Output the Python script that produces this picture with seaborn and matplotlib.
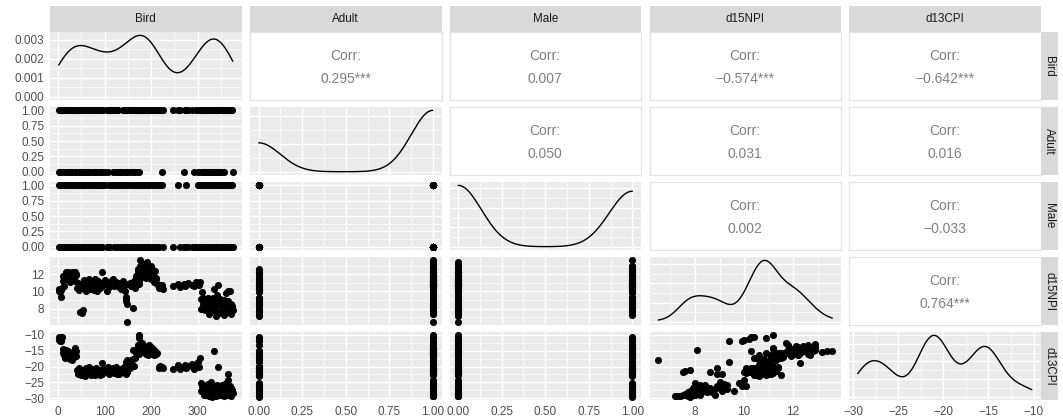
import numpy as np
import pandas as pd
import matplotlib
matplotlib.use("Agg")
import matplotlib.pyplot as plt
import seaborn as sns
from matplotlib.ticker import FixedLocator, MaxNLocator

# ---------------- data ----------------
variables = ["Bird", "Adult", "Male", "d15NPI", "d13CPI"]

bird = [
    1, 2, 167, 4, 5, 6, 171, 8, 10, 11,
    12, 177, 14, 15, 16, 183, 18, 20, 21, 22,
    24, 192, 26, 28, 29, 30, 32, 204, 34, 36,
    37, 38, 39, 41, 42, 44, 45, 47, 49, 51,
    53, 54, 56, 58, 60, 62, 64, 66, 68, 70,
    72, 74, 76, 78, 80, 82, 84, 86, 88, 90,
    92, 94, 95, 97, 210, 101, 307, 105, 107, 109,
    111, 113, 314, 117, 119, 121, 169, 125, 127, 129,
    131, 133, 135, 327, 139, 141, 143, 145, 146, 147,
    148, 149, 150, 333, 154, 156, 174, 160, 162, 164,
    166, 168, 170, 172, 173, 175, 176, 178, 179, 181,
    182, 184, 185, 187, 188, 190, 191, 193, 194, 196,
    197, 199, 200, 202, 203, 205, 207, 209, 211, 213,
    216, 218, 220, 186, 224, 226, 248, 189, 258, 263,
    270, 272, 276, 280, 340, 288, 292, 296, 300, 303,
    306, 308, 309, 311, 312, 313, 315, 316, 317, 319,
    320, 322, 323, 325, 326, 328, 329, 331, 332, 334,
    335, 336, 338, 339, 341, 342, 344, 345, 347, 348,
    350, 351, 353, 354, 356, 357, 359, 360, 362, 363,
    365, 366, 368, 369, 370, 371, 372, 373, 374, 376,
]

adult = [
    1, 0, 1, 0, 0, 1, 1, 0, 1, 1,
    1, 1, 0, 1, 1, 1, 1, 1, 1, 0,
    0, 1, 0, 1, 0, 1, 1, 1, 1, 0,
    1, 1, 0, 1, 1, 0, 1, 1, 0, 1,
    1, 0, 1, 0, 0, 1, 0, 1, 0, 1,
    1, 0, 0, 1, 0, 1, 0, 1, 1, 0,
    1, 0, 1, 1, 1, 0, 1, 1, 0, 1,
    1, 1, 1, 1, 0, 1, 1, 0, 1, 1,
    0, 0, 0, 1, 1, 0, 1, 1, 0, 1,
    1, 0, 1, 0, 0, 1, 0, 0, 1, 1,
    0, 1, 1, 0, 1, 1, 1, 1, 1, 1,
    1, 1, 1, 1, 1, 1, 1, 1, 1, 1,
    1, 1, 1, 1, 1, 1, 1, 1, 1, 1,
    1, 1, 1, 1, 0, 1, 1, 1, 1, 1,
    0, 1, 1, 1, 1, 1, 0, 1, 0, 1,
    1, 0, 1, 0, 0, 1, 0, 1, 0, 0,
    1, 0, 0, 1, 1, 0, 1, 0, 0, 1,
    0, 1, 0, 0, 1, 1, 0, 1, 0, 0,
    1, 0, 1, 1, 0, 1, 1, 1, 1, 1,
    1, 1, 1, 1, 1, 1, 1, 1, 1, 0,
]

male = [
    1, 0, 0, 1, 1, 0, 1, 0, 0, 1,
    0, 1, 1, 0, 0, 1, 0, 1, 0, 0,
    1, 0, 0, 1, 1, 0, 1, 0, 0, 1,
    0, 1, 1, 0, 1, 0, 0, 1, 1, 0,
    1, 0, 0, 1, 1, 0, 1, 0, 0, 1,
    0, 1, 1, 0, 0, 1, 0, 1, 1, 0,
    1, 0, 0, 1, 0, 1, 1, 0, 0, 1,
    0, 1, 0, 1, 1, 0, 0, 1, 0, 1,
    1, 0, 1, 0, 0, 1, 0, 1, 1, 0,
    0, 1, 0, 1, 1, 0, 1, 0, 1, 0,
    1, 0, 1, 1, 0, 0, 1, 0, 1, 0,
    1, 0, 1, 0, 1, 1, 0, 1, 0, 0,
    0, 1, 0, 1, 1, 0, 1, 0, 1, 0,
    1, 0, 1, 0, 1, 0, 0, 0, 1, 0,
    0, 0, 1, 0, 0, 0, 0, 0, 1, 0,
    1, 0, 0, 1, 1, 0, 1, 0, 1, 0,
    0, 1, 1, 0, 1, 0, 0, 1, 1, 0,
    1, 0, 1, 0, 0, 1, 1, 0, 1, 0,
    0, 1, 1, 0, 1, 0, 1, 0, 1, 0,
    1, 0, 0, 1, 0, 1, 1, 0, 1, 0,
]

d15npi = [
    10.3, 10.0, 11.8, 9.9, 10.2, 9.4, 12.4, 10.4, 11.2, 11.8,
    10.6, 12.9, 11.5, 11.9, 12.3, 12.6, 11.7, 12.2, 11.4, 12.0,
    11.6, 11.9, 11.1, 11.8, 12.2, 11.3, 11.9, 12.1, 11.6, 12.3,
    11.2, 11.9, 12.0, 10.4, 11.0, 10.2, 10.8, 7.6, 10.5, 7.5,
    10.9, 7.8, 11.3, 10.6, 10.1, 11.0, 10.7, 11.4, 10.3, 10.9,
    10.5, 11.1, 10.2, 10.8, 11.5, 10.6, 10.0, 11.2, 10.7, 10.4,
    11.0, 10.6, 12.3, 10.9, 11.5, 11.3, 9.1, 10.1, 11.0, 10.5,
    10.8, 11.2, 8.0, 10.9, 11.4, 10.6, 11.3, 11.1, 10.7, 10.9,
    10.5, 11.0, 10.3, 7.7, 11.2, 10.6, 10.1, 9.4, 8.9, 9.1,
    6.5, 8.6, 10.9, 9.3, 11.0, 10.6, 12.0, 10.8, 8.1, 11.2,
    10.4, 11.5, 11.9, 12.6, 10.9, 11.2, 13.6, 12.2, 12.8, 11.7,
    12.4, 13.2, 12.1, 12.9, 11.6, 12.5, 13.4, 12.0, 12.7, 11.8,
    12.3, 12.9, 11.4, 12.6, 11.9, 12.2, 11.1, 12.4, 11.6, 10.9,
    10.6, 10.4, 10.8, 12.3, 10.7, 10.3, 10.6, 12.8, 10.9, 10.5,
    10.9, 10.6, 10.7, 11.0, 8.5, 10.8, 10.6, 11.1, 11.0, 10.8,
    11.1, 8.0, 9.9, 8.6, 9.3, 8.2, 9.0, 8.8, 7.8, 8.4,
    7.9, 9.2, 8.7, 7.4, 8.1, 8.3, 9.0, 7.8, 8.6, 7.9,
    10.3, 8.1, 8.9, 7.2, 9.6, 8.4, 7.6, 10.7, 8.8, 9.1,
    7.5, 8.7, 8.2, 8.0, 7.3, 9.0, 8.5, 7.7, 9.8, 8.2,
    8.9, 10.0, 7.6, 8.4, 10.1, 7.7, 7.4, 8.6, 8.3, 7.9,
]

d13cpi = [
    -10.8, -11.5, -14.9, -11.9, -11.2, -12.0, -13.5, -10.6, -14.5, -15.8,
    -16.5, -12.8, -17.2, -16.0, -14.8, -14.1, -15.5, -16.3, -17.0, -15.2,
    -16.8, -15.3, -17.5, -15.9, -16.4, -17.8, -15.3, -14.6, -17.1, -15.6,
    -14.3, -16.6, -15.0, -21.0, -22.4, -21.8, -20.6, -21.3, -22.8, -21.8,
    -22.0, -21.0, -21.4, -22.9, -20.5, -21.7, -22.2, -20.2, -21.5, -22.6,
    -21.2, -22.5, -20.8, -21.9, -22.7, -20.4, -21.6, -22.1, -21.0, -22.8,
    -21.5, -22.3, -19.0, -20.7, -15.8, -21.4, -27.8, -21.1, -20.3, -22.4,
    -21.7, -20.9, -28.9, -21.3, -20.5, -22.1, -15.6, -20.2, -22.5, -21.0,
    -22.2, -21.5, -20.8, -29.2, -21.2, -20.0, -21.9, -18.5, -20.6, -22.3,
    -18.1, -21.8, -19.5, -27.0, -20.4, -18.0, -16.0, -17.5, -14.7, -19.8,
    -17.2, -15.8, -14.5, -13.2, -11.0, -10.2, -15.0, -13.8, -14.6, -12.5,
    -14.2, -15.5, -13.6, -14.9, -16.0, -13.9, -15.2, -14.4, -16.3, -13.1,
    -15.7, -14.0, -15.9, -16.1, -14.7, -15.4, -16.4, -15.0, -16.2, -15.6,
    -20.0, -20.6, -19.8, -14.8, -20.3, -20.5, -20.7, -15.1, -19.6, -20.8,
    -20.1, -19.4, -20.6, -19.8, -27.9, -19.1, -20.9, -19.5, -18.7, -20.2,
    -17.4, -25.3, -26.0, -27.1, -25.8, -28.3, -26.7, -29.0, -27.6, -26.2,
    -28.8, -25.5, -27.9, -29.3, -26.4, -28.0, -25.0, -29.5, -27.3, -26.8,
    -15.2, -28.5, -26.1, -29.2, -27.6, -25.7, -28.9, -20.3, -27.0, -26.3,
    -29.1, -27.4, -25.9, -28.6, -29.4, -26.5, -27.8, -28.2, -25.2, -29.0,
    -22.5, -24.3, -28.7, -27.2, -26.0, -28.0, -29.3, -26.9, -27.5, -28.4,
]

# correlation labels for the upper triangle (row-wise order)
corr_values = [0.295, 0.007, -0.574, -0.642, 0.050, 0.031, 0.016, 0.002, -0.033, 0.764]
corr_stars = ["***", "", "***", "***", "", "", "", "", "", "***"]

# axis breaks and labels
axis_ticks = {
    "Bird": [0, 100, 200, 300],
    "Adult": [0, 0.25, 0.5, 0.75, 1],
    "Male": [0, 0.25, 0.5, 0.75, 1],
    "d15NPI": [8, 10, 12],
    "d13CPI": [-30, -25, -20, -15, -10],
}
axis_labels = {
    "Bird": ["0", "100", "200", "300"],
    "Adult": ["0.00", "0.25", "0.50", "0.75", "1.00"],
    "Male": ["0.00", "0.25", "0.50", "0.75", "1.00"],
    "d15NPI": ["8", "10", "12"],
    "d13CPI": ["\u221230", "\u221225", "\u221220", "\u221215", "\u221210"],
}
density_ticks = [0.000, 0.001, 0.002, 0.003]
density_labels = ["0.000", "0.001", "0.002", "0.003"]

df = pd.DataFrame({"Bird": bird, "Adult": adult, "Male": male,
                   "d15NPI": d15npi, "d13CPI": d13cpi})

# ---------------- style ----------------
sns.set_theme(style="darkgrid", rc={"axes.facecolor": "#EBEBEB",
                                    "grid.color": "white"})
plt.rcParams["font.family"] = ["Liberation Sans", "DejaVu Sans"]
plt.rcParams["axes.unicode_minus"] = True

W, H = 1063, 420
fig = plt.figure(figsize=(W / 100, H / 100), dpi=100)
fig.patch.set_facecolor("white")

col_left = [50, 250, 449.5, 649.5, 849]
pw = 191.5
row_top = [32.3, 107.3, 182.3, 257.3, 332.3]
ph = 67.5

TICK_COL = "#4D4D4D"
TICK_SIZE = 8.5
STRIP_SIZE = 8.4
BW_ADJUST = 0.85


def add_ax(x, y, w, h):
    return fig.add_axes([x / W, 1 - (y + h) / H, w / W, h / H])


def nrd0_factor(v):
    v = np.asarray(v, dtype=float)
    sd = np.std(v, ddof=1)
    q75, q25 = np.percentile(v, [75, 25])
    lo = min(sd, (q75 - q25) / 1.34) if q75 > q25 else sd
    bw = 0.9 * lo * len(v) ** -0.2
    return bw / sd


def limits(v):
    v = np.asarray(v, dtype=float)
    lo, hi = v.min(), v.max()
    r = hi - lo
    return lo - 0.05 * r, hi + 0.05 * r


def minors(ticks):
    t = list(ticks)
    step = t[1] - t[0]
    return [t[0] - step / 2] + [a + step / 2 for a in t]


lims = {v: limits(df[v]) for v in variables}

k = 0
for i, rv in enumerate(variables):
    for j, cv in enumerate(variables):
        ax = add_ax(col_left[j], row_top[i], pw, ph)
        if i < j:
            ax.set_facecolor("white")
            ax.grid(False)
            ax.set_xticks([])
            ax.set_yticks([])
            for s in ax.spines.values():
                s.set_visible(True)
                s.set_color("#E3E3E3")
                s.set_linewidth(0.9)
            lab = f"{corr_values[k]:.3f}".replace("-", "\u2212") + corr_stars[k]
            k += 1
            ax.text(0.5, 0.655, "Corr:", ha="center", va="center",
                    transform=ax.transAxes, fontsize=10, color="#7F7F7F")
            ax.text(0.5, 0.315, lab, ha="center", va="center",
                    transform=ax.transAxes, fontsize=10, color="#7F7F7F")
            continue

        if i == j:
            sns.kdeplot(x=df[cv], ax=ax, color="black", linewidth=1.0,
                        cut=0, bw_method=nrd0_factor(df[cv]),
                        bw_adjust=BW_ADJUST)
            m = max(l.get_ydata().max() for l in ax.lines)
            ax.set_ylim(-0.05 * m, 1.05 * m)
            if i == 0:
                yt = density_ticks
            else:
                yt = [t for t in MaxNLocator(nbins=4, steps=[1, 2, 2.5, 5, 10]).tick_values(0, m)
                      if -0.05 * m <= t <= 1.05 * m]
        else:
            sns.scatterplot(x=df[cv], y=df[rv], ax=ax, color="black", s=26,
                            linewidth=0, legend=False)
            ax.set_ylim(*lims[rv])
            yt = axis_ticks[rv]

        ax.set_xlim(*lims[cv])
        xt = axis_ticks[cv]
        ax.set_xlabel("")
        ax.set_ylabel("")
        for s in ax.spines.values():
            s.set_visible(False)

        ax.xaxis.set_major_locator(FixedLocator(xt))
        ax.xaxis.set_minor_locator(FixedLocator(minors(xt)))
        ax.yaxis.set_major_locator(FixedLocator(yt))
        ax.yaxis.set_minor_locator(FixedLocator(minors(yt)))
        ax.set_axisbelow(True)
        ax.grid(True, which="major", color="white", linewidth=1.0)
        ax.grid(True, which="minor", color="white", linewidth=0.5)
        ax.tick_params(which="minor", length=0)
        ax.tick_params(which="major", length=2.7, width=0.8, color="#333333",
                       labelsize=TICK_SIZE, labelcolor=TICK_COL, pad=1.5)

        if i == len(variables) - 1:
            ax.set_xticklabels(axis_labels[cv])
        else:
            ax.tick_params(axis="x", which="major", length=0, labelbottom=False)
        if j == 0:
            if i == 0:
                ax.set_yticklabels(density_labels)
            else:
                ax.set_yticklabels(axis_labels[rv])
        else:
            ax.tick_params(axis="y", which="major", length=0, labelleft=False)

# strips
for j, cv in enumerate(variables):
    sax = add_ax(col_left[j], 6, pw, 26.3)
    sax.set_facecolor("#D9D9D9")
    sax.set_xticks([]); sax.set_yticks([])
    sax.grid(False)
    for s in sax.spines.values():
        s.set_visible(False)
    sax.text(0.5, 0.5, cv, ha="center", va="center", transform=sax.transAxes,
             fontsize=STRIP_SIZE, color="#1A1A1A")

for i, rv in enumerate(variables):
    sax = add_ax(1041, row_top[i], 16.5, ph)
    sax.set_facecolor("#D9D9D9")
    sax.set_xticks([]); sax.set_yticks([])
    sax.grid(False)
    for s in sax.spines.values():
        s.set_visible(False)
    sax.text(0.5, 0.5, rv, ha="center", va="center", rotation=-90,
             transform=sax.transAxes, fontsize=STRIP_SIZE, color="#1A1A1A")

fig.savefig("out.png", dpi=100, facecolor="white")
